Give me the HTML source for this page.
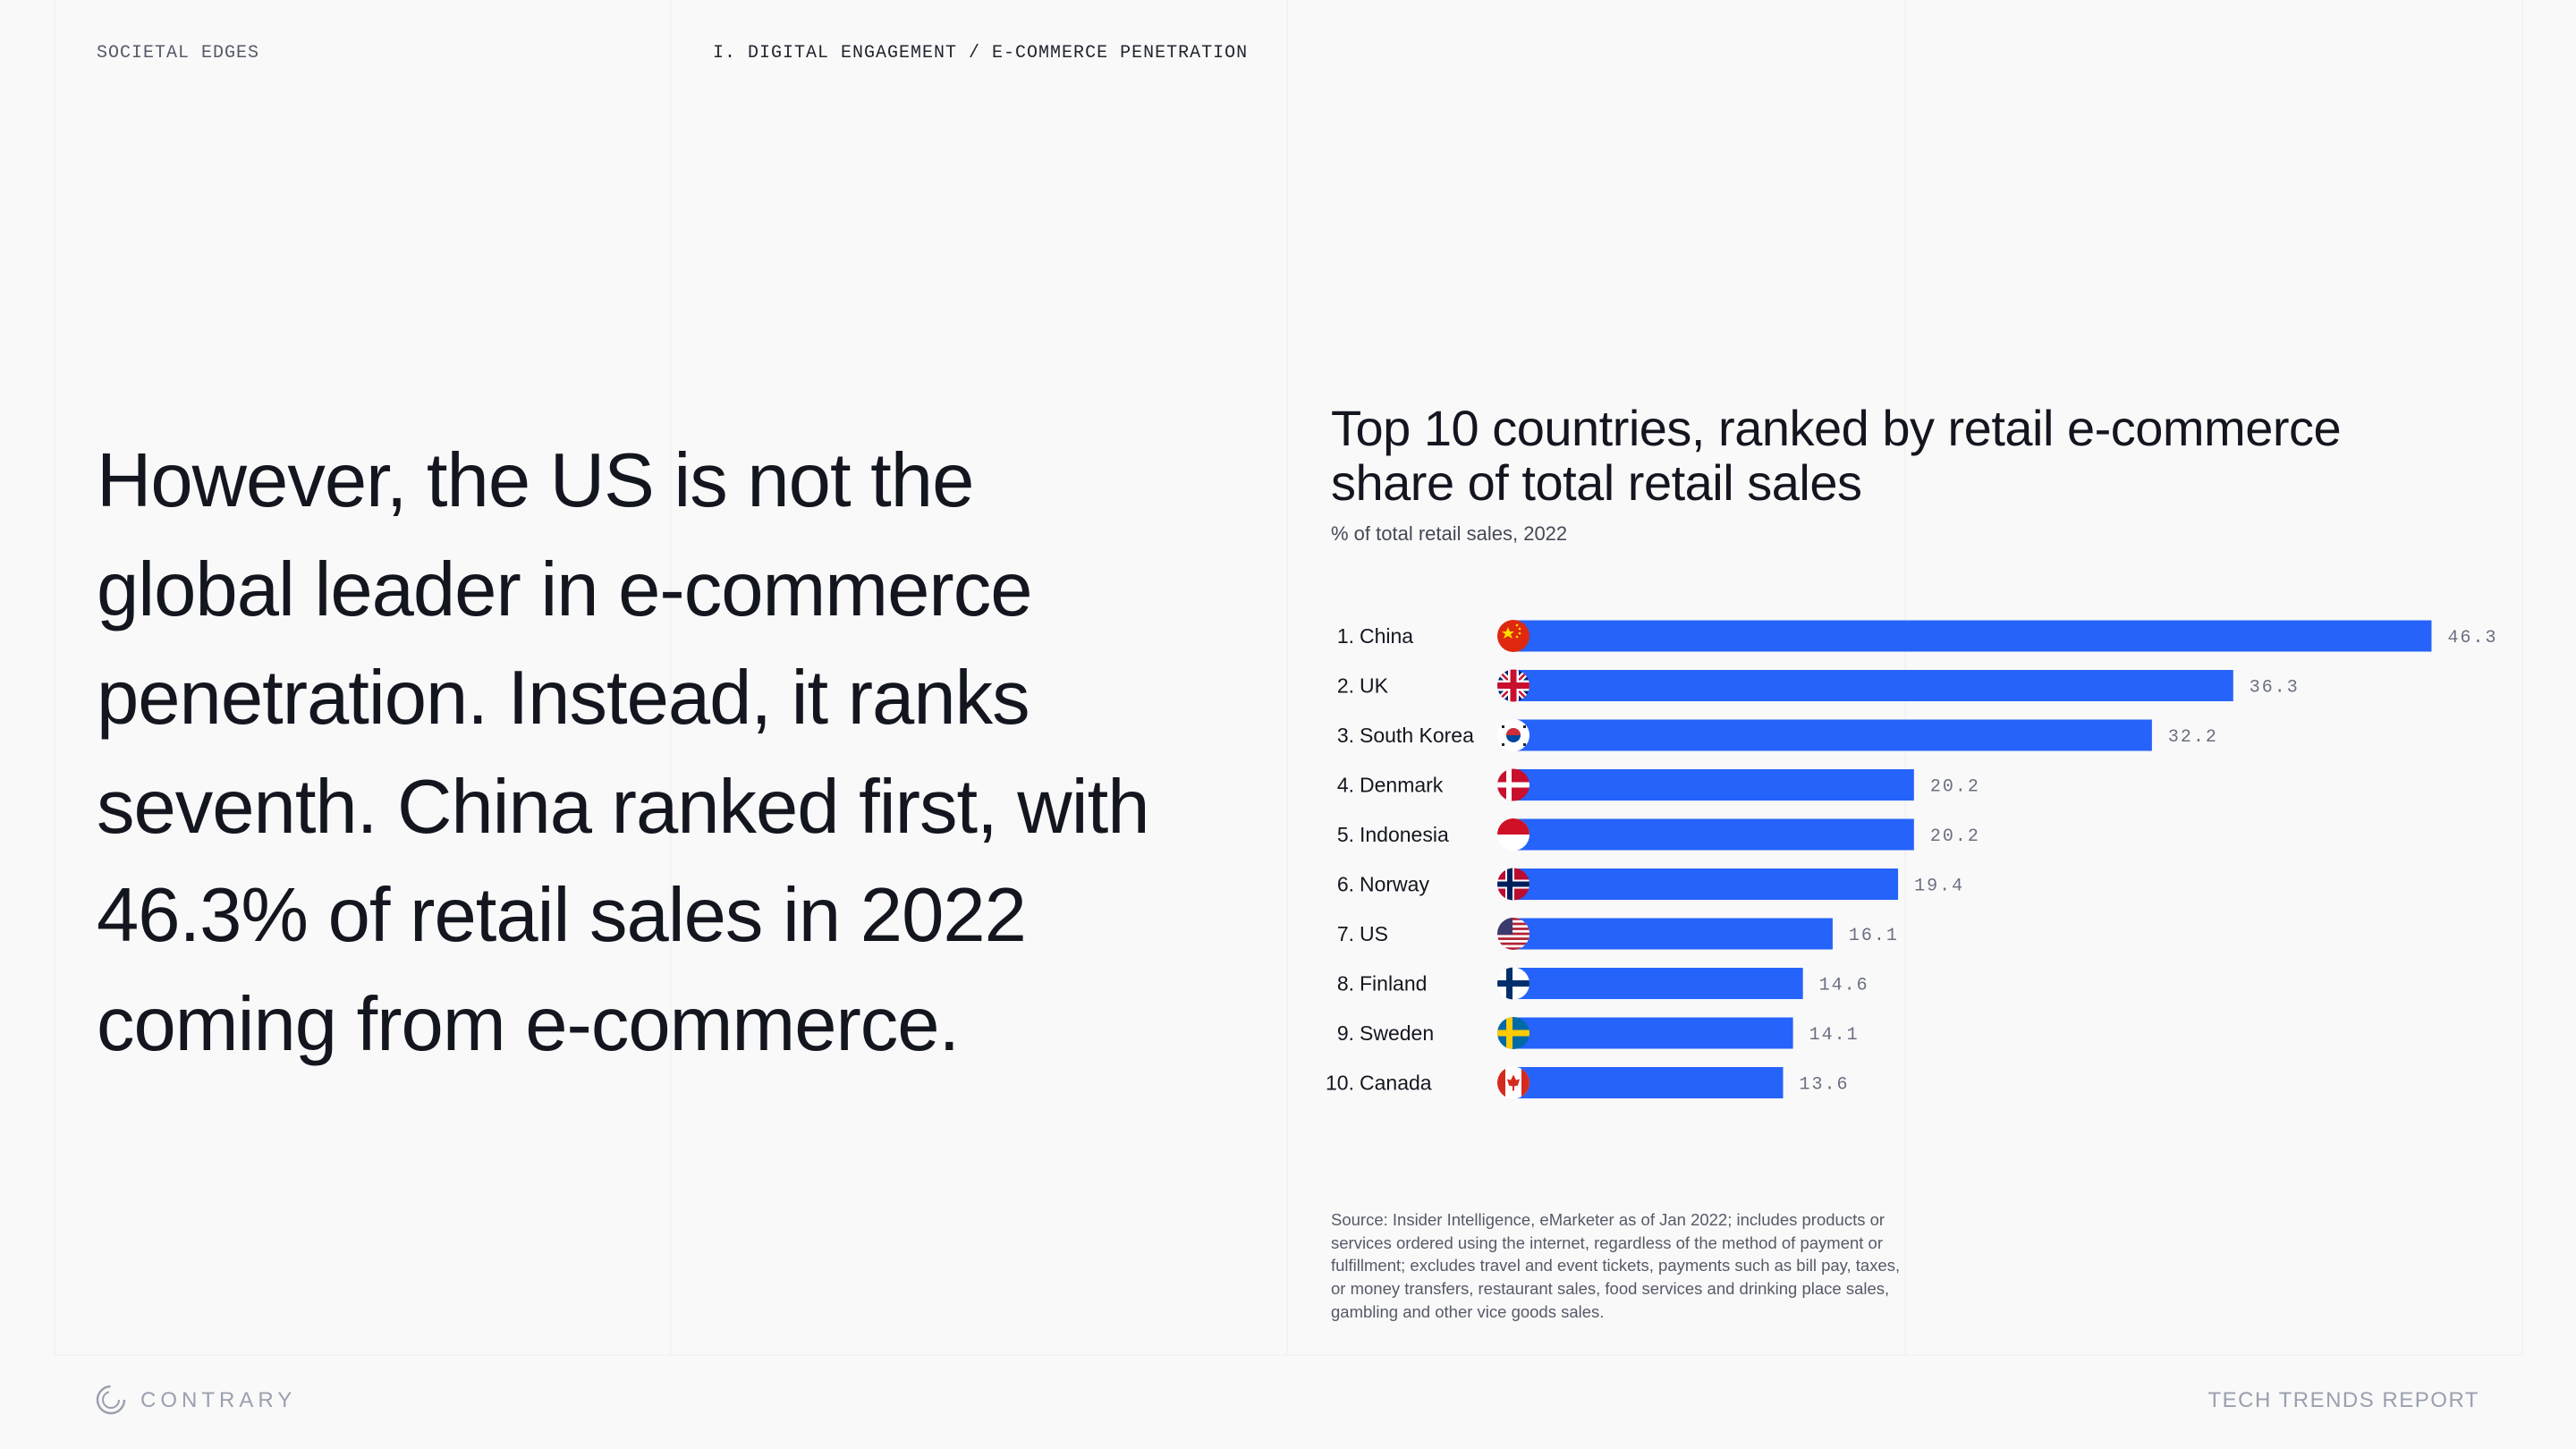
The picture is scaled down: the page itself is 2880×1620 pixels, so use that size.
<!DOCTYPE html>
<html><head><meta charset="utf-8">
<style>
html,body{margin:0;padding:0}
body{width:2880px;height:1620px;background:#f9f9fa;position:relative;overflow:hidden;font-family:"Liberation Sans",sans-serif;color:#14161f}
.vl{position:absolute;top:0;width:2px;height:1515px;background:#f3f3f5}
.hl{position:absolute;left:61px;width:2760px;top:1514px;height:2px;background:#f3f3f5}
.mono{font-family:"Liberation Mono",monospace}
.abs{position:absolute;white-space:nowrap}
</style></head><body>
<div class="vl" style="left:60px"></div>
<div class="vl" style="left:749px"></div>
<div class="vl" style="left:1438px"></div>
<div class="vl" style="left:2129px"></div>
<div class="vl" style="left:2819px"></div>
<div class="hl"></div>

<div class="abs mono" style="left:108px;top:48px;font-size:20px;color:#555a66;letter-spacing:1px">SOCIETAL EDGES</div>
<div class="abs mono" style="left:797px;top:48px;font-size:20px;color:#22252e;letter-spacing:1px">I. DIGITAL ENGAGEMENT / E-COMMERCE PENETRATION</div>

<div class="abs" style="left:108px;top:477px;font-size:85px;line-height:121.5px;letter-spacing:-1px;color:#14161f;white-space:normal;width:1300px">However, the US is not the<br>global leader in e-commerce<br>penetration. Instead, it ranks<br>seventh. China ranked first, with<br>46.3% of retail sales in 2022<br>coming from e-commerce.</div>

<div class="abs" style="left:1488px;top:448px;font-size:56px;line-height:61px;letter-spacing:-0.5px">Top 10 countries, ranked by retail e-commerce<br>share of total retail sales</div>
<div class="abs" style="left:1488px;top:584px;font-size:22px;color:#444955">% of total retail sales, 2022</div>

<svg id="chart" class="abs" style="left:0;top:0" width="2880" height="1620"></svg>

<div class="abs" style="left:1488px;top:1351px;font-size:18.5px;line-height:25.7px;color:#555a66">Source: Insider Intelligence, eMarketer as of Jan 2022; includes products or<br>services ordered using the internet, regardless of the method of payment or<br>fulfillment; excludes travel and event tickets, payments such as bill pay, taxes,<br>or money transfers, restaurant sales, food services and drinking place sales,<br>gambling and other vice goods sales.</div>

<svg class="abs" style="left:106px;top:1546px" width="36" height="38">
<circle cx="18" cy="19" r="15" fill="none" stroke="#9aa0ae" stroke-width="2.5" stroke-dasharray="70 30"/>
<circle cx="18" cy="19" r="9" fill="none" stroke="#9aa0ae" stroke-width="2" stroke-dasharray="40 20"/>
</svg>
<div class="abs" style="left:157px;top:1552px;font-size:24px;letter-spacing:5px;color:#9aa0ae">CONTRARY</div>
<div class="abs" style="right:108px;top:1552px;font-size:24px;letter-spacing:1.5px;color:#9aa0ae">TECH TRENDS REPORT</div>

<script>
const countries=["China","UK","South Korea","Denmark","Indonesia","Norway","US","Finland","Sweden","Canada"];
const values=[46.3,36.3,32.2,20.2,20.2,19.4,16.1,14.6,14.1,13.6];
const valueLabels=["46.3","36.3","32.2","20.2","20.2","19.4","16.1","14.6","14.1","13.6"];
const flagCodes=["cn","uk","kr","dk","id","no","us","fi","se","ca"];

const NS="http://www.w3.org/2000/svg";
const svg=document.getElementById('chart');
const x0=1692, xScale=22.17;
const x=v=>x0+v*xScale;
const y=i=>711+i*55.5;
const barH=35, r=18;
function mk(tag,attrs,parent){const e=document.createElementNS(NS,tag);for(const k in attrs)e.setAttribute(k,attrs[k]);(parent||svg).appendChild(e);return e;}

function flag(code,cx,cy,i){
  const g=mk('g',{});
  
  
  const cp=mk('clipPath',{id:'cp'+i},g);
  mk('circle',{cx:cx,cy:cy,r:r},cp);
  const f=mk('g',{'clip-path':'url(#cp'+i+')'},g);
  const L=cx-r,T=cy-r,S=2*r;
  const rect=(x,y,w,h,c)=>mk('rect',{x:x,y:y,width:w,height:h,fill:c},f);
  if(code==='cn'){rect(L,T,S,S,'#de2910');mk('polygon',{points:`${L+12},${T+8} ${L+14},${T+13} ${L+19},${T+13} ${L+15},${T+16} ${L+17},${T+21} ${L+12},${T+18} ${L+7},${T+21} ${L+9},${T+16} ${L+5},${T+13} ${L+10},${T+13}`,fill:'#ffde00'},f);
    [[22,6],[25,10],[25,15],[22,19]].forEach(p=>mk('circle',{cx:L+p[0],cy:T+p[1],r:1.3,fill:'#ffde00'},f));}
  else if(code==='uk'){rect(L,T,S,S,'#012169');mk('path',{d:`M${L},${T}L${L+S},${T+S}M${L+S},${T}L${L},${T+S}`,stroke:'#fff','stroke-width':7},f);mk('path',{d:`M${L},${T}L${L+S},${T+S}M${L+S},${T}L${L},${T+S}`,stroke:'#c8102e','stroke-width':2.5},f);rect(cx-6,T,12,S,'#fff');rect(L,cy-6,S,12,'#fff');rect(cx-3.5,T,7,S,'#c8102e');rect(L,cy-3.5,S,7,'#c8102e');}
  else if(code==='kr'){rect(L,T,S,S,'#fff');mk('circle',{cx:cx,cy:cy,r:8,fill:'#0047a0'},f);mk('path',{d:`M${cx-8},${cy} A8,8 0 0 1 ${cx+8},${cy} Z`,fill:'#cd2e3a'},f);
    [[-13,-11],[11,-11],[-13,9],[11,9]].forEach(p=>rect(cx+p[0],cy+p[1],3,3,'#222'));}
  else if(code==='dk'){rect(L,T,S,S,'#c8102e');rect(L+10,T,6,S,'#fff');rect(L,cy-3,S,6,'#fff');}
  else if(code==='id'){rect(L,T,S,S,'#fff');rect(L,T,S,r,'#ce1126');}
  else if(code==='no'){rect(L,T,S,S,'#ba0c2f');rect(L+9,T,10,S,'#fff');rect(L,cy-5,S,10,'#fff');rect(L+11,T,6,S,'#00205b');rect(L,cy-3,S,6,'#00205b');}
  else if(code==='us'){rect(L,T,S,S,'#fff');for(let k=0;k<7;k++)rect(L,T+k*5.54,S,2.77,'#b22234');rect(L,T,17,19,'#3c3b6e');}
  else if(code==='fi'){rect(L,T,S,S,'#fff');rect(L+10,T,7,S,'#002f6c');rect(L,cy-3.5,S,7,'#002f6c');}
  else if(code==='se'){rect(L,T,S,S,'#006aa7');rect(L+10,T,7,S,'#fecc00');rect(L,cy-3.5,S,7,'#fecc00');}
  else if(code==='ca'){rect(L,T,S,S,'#fff');rect(L,T,9,S,'#d52b1e');rect(L+27,T,9,S,'#d52b1e');mk('polygon',{points:`${cx},${cy-9} ${cx+3},${cy-3} ${cx+7},${cy-4} ${cx+5},${cy+3} ${cx+1},${cy+4} ${cx+1},${cy+9} ${cx-1},${cy+9} ${cx-1},${cy+4} ${cx-5},${cy+3} ${cx-7},${cy-4} ${cx-3},${cy-3}`,fill:'#d52b1e'},f);}
}

countries.forEach((c,i)=>{
  const cy=y(i);
  const lab=mk('text',{x:1514,y:cy+8,'font-size':23,fill:'#14161f','font-family':'Liberation Sans, sans-serif','text-anchor':'end'});
  
  
  lab.textContent=(i+1)+'.';
  const nm=mk('text',{x:1520,y:cy+8,'font-size':23,fill:'#14161f','font-family':'Liberation Sans, sans-serif'});
  
  
  nm.textContent=c;
  const b=mk('rect',{x:x(0),y:cy-barH/2,width:x(values[i])-x(0),height:barH,fill:'#2563fb'});
  
  
  flag(flagCodes[i],x0,cy,i);
  const v=mk('text',{x:x(values[i])+18,y:cy+7,'font-size':20,fill:'#6b7080','font-family':'Liberation Mono, monospace','letter-spacing':2});
  
  
  v.textContent=valueLabels[i];
});
</script>
</body></html>
